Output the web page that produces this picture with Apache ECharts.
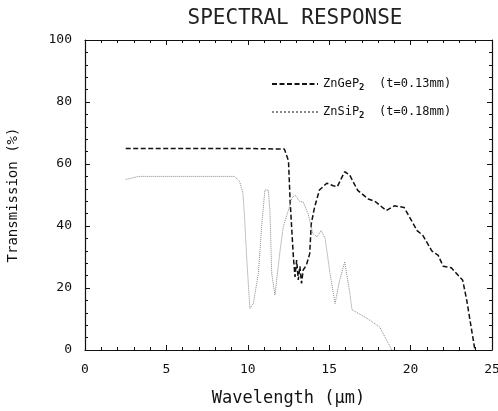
<!DOCTYPE html>
<html>
<head>
<meta charset="utf-8">
<script src="https://cdn.jsdelivr.net/npm/echarts@6/dist/echarts.min.js"></script>
<style>
  html, body { margin: 0; padding: 0; background: #fff; }
  #chart { width: 498px; height: 411px; }
</style>
</head>
<body>
<div id="chart"></div>
<script>
// ZnGeP2 (t=0.13mm)  [波长 µm, 透过率 %]
var zngep2 = [
  [2.5, 65], [4, 65], [6, 65], [8, 65], [10, 65], [12.25, 64.8], [12.5, 61],
  [12.6, 48], [12.8, 30], [12.9, 23.6], [13.0, 29], [13.1, 22.6], [13.2, 27],
  [13.3, 21.5], [13.4, 25.8], [13.6, 27.4], [13.8, 31], [13.9, 40.8],
  [14.1, 46], [14.4, 51.6], [14.85, 53.8], [15.25, 53], [15.5, 52.7],
  [15.95, 57.5], [16.25, 56.5], [16.75, 51.5], [17.4, 48.7], [17.8, 48],
  [18.5, 45], [19.0, 46.5], [19.6, 46], [20.4, 38.5], [20.75, 37], [21.3, 32],
  [21.7, 30.5], [22.0, 27], [22.5, 26.5], [23.2, 22.5], [23.45, 16], [23.95, 0]
]
// ZnSiP2 (t=0.18mm)
var znsip2 = [
  [2.5, 55], [3.3, 56], [6, 56], [9.2, 56], [9.5, 54.3], [9.7, 50.5],
  [9.8, 43], [9.93, 30], [10.03, 21.5], [10.13, 13.4], [10.34, 15],
  [10.65, 24.7], [10.85, 39.8], [11.05, 51.6], [11.26, 51.6], [11.36, 45],
  [11.47, 24.7], [11.67, 17.7], [11.78, 18.3], [11.98, 32], [12.18, 39.8],
  [12.49, 45], [12.7, 49], [12.9, 50], [13.2, 47.8], [13.4, 47.8], [13.7, 44],
  [14.0, 37.5], [14.25, 36.5], [14.5, 38.5], [14.75, 36], [15.05, 24.7],
  [15.36, 15], [15.6, 21.5], [15.95, 28.5], [16.25, 19], [16.4, 13],
  [17.3, 10.3], [18.1, 7.4], [18.85, 0]
]
var seriesNames = ['ZnGeP2', 'ZnSiP2']
var legendText = {
  ZnGeP2: 'ZnGeP{sub|2}  (t=0.13mm)',
  ZnSiP2: 'ZnSiP{sub|2}  (t=0.18mm)'
}

var mono = 'DejaVu Sans Mono'
var chart = echarts.init(document.getElementById('chart'))

// 坐标轴公共样式
function axisStyle(showLabel, margin) {
  return {
    axisLine: { show: true, onZero: false, lineStyle: { color: '#111', width: 1.2 } },
    axisTick: { show: true, inside: true, length: 5, lineStyle: { color: '#111' } },
    minorTick: { show: true, splitNumber: 5, length: 3, lineStyle: { color: '#111' } },
    splitLine: { show: false },
    axisLabel: { show: showLabel, color: '#111', fontFamily: mono, fontSize: 13, margin: margin || 10 }
  }
}

chart.setOption({
  animation: false,
  title: {
    text: 'SPECTRAL RESPONSE',
    left: 290,
    textAlign: 'center',
    top: 3,
    textStyle: { fontFamily: mono, fontSize: 21, fontWeight: 'normal', color: '#222' }
  },
  grid: { left: 85, right: 6, top: 40, bottom: 61, containLabel: false, outerBoundsMode: 'none' },
  legend: {
    orient: 'vertical',
    left: 266,
    top: 73,
    itemWidth: 46,
    itemHeight: 10,
    itemGap: 14,
    itemStyle: { opacity: 0 },
    formatter: function (name) {
      return legendText[name]
    },
    textStyle: {
      fontFamily: mono, fontSize: 12, color: '#111',
      rich: { sub: { fontFamily: mono, fontSize: 9, fontWeight: 'bold', padding: [7, 0, 0, 0] } }
    },
    data: seriesNames
  },
  xAxis: [
    Object.assign({ type: 'value', min: 0, max: 25, interval: 5, position: 'bottom',
      name: 'Wavelength (µm)', nameLocation: 'middle', nameGap: 40,
      nameTextStyle: { fontFamily: mono, fontSize: 17, color: '#111' } }, axisStyle(true, 13)),
    Object.assign({ type: 'value', min: 0, max: 25, interval: 5, position: 'top', gridIndex: 0 }, axisStyle(false))
  ],
  yAxis: [
    Object.assign({ type: 'value', min: 0, max: 100, interval: 20, position: 'left',
      name: 'Transmission (%)', nameLocation: 'middle', nameGap: 65,
      nameTextStyle: { fontFamily: mono, fontSize: 14, color: '#111' } }, axisStyle(true, 13)),
    Object.assign({ type: 'value', min: 0, max: 100, interval: 20, position: 'right', gridIndex: 0 }, axisStyle(false))
  ],
  series: [
    {
      name: seriesNames[0],
      type: 'line',
      data: zngep2,
      showSymbol: false,
      symbol: 'none',
      lineStyle: { color: '#111', width: 1.5, type: [5, 2.5] },
      itemStyle: { color: '#111' }
    },
    {
      name: seriesNames[1],
      type: 'line',
      data: znsip2,
      showSymbol: false,
      symbol: 'none',
      lineStyle: { color: '#888', width: 1, type: 'dotted' },
      itemStyle: { color: '#888' }
    },
    // 右侧和顶部坐标轴需要挂一个空系列才会绘制
    {
      type: 'line',
      xAxisIndex: 1,
      yAxisIndex: 1,
      data: [],
      silent: true
    }
  ]
})
</script>
</body>
</html>
